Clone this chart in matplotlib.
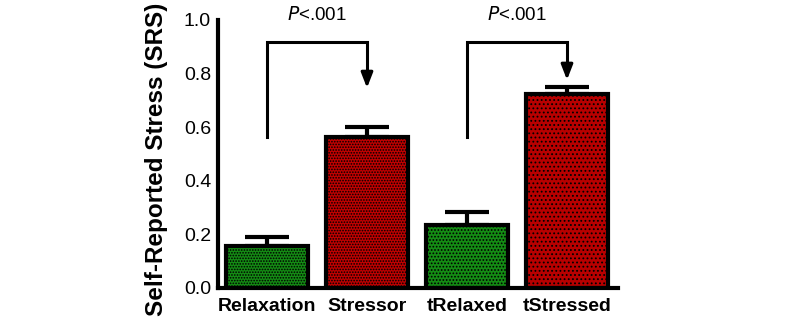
import matplotlib.pyplot as plt

# Du lieu doc tu hinh
nhom = ["Relaxation", "Stressor", "tRelaxed", "tStressed"]
gia_tri = [0.157, 0.563, 0.235, 0.724]
sai_so = [0.033, 0.037, 0.048, 0.026]
mau = ["#148c14", "#c00000", "#148c14", "#b80000"]
mau_cham = ["#0a500a", "#8a0000", "#0a500a", "#3a0000"]
kieu_cham = ["......", "......", ".....", "...."]

# cac cap so sanh: (tu, den, dau duoi, dinh, mui ten)
cap_so_sanh = [(0, 1, 0.563, 0.918, 0.746), (2, 3, 0.563, 0.918, 0.776)]
nhan_p = "$\\it{P}$<.001"

plt.rcParams["font.family"] = ["Liberation Sans", "DejaVu Sans"]
plt.rcParams["hatch.linewidth"] = 0.8

fig = plt.figure(figsize=(8, 3.25), dpi=100)
ax = fig.add_axes([0.2725, 0.114, 0.5, 0.825])

x = range(len(nhom))
for i in x:
    plt.rcParams["hatch.color"] = mau_cham[i]
    ax.bar(i, gia_tri[i], width=0.82, color=mau[i], edgecolor="black",
           linewidth=3, hatch=kieu_cham[i], zorder=2)
    ax.errorbar(i, gia_tri[i], yerr=[[0], [sai_so[i]]], fmt="none",
                ecolor="black", elinewidth=3, capsize=16, capthick=3, zorder=1)

for a, b, duoi, dinh, mui in cap_so_sanh:
    ax.plot([a, a, b, b], [duoi, dinh, dinh, mui + 0.03], color="black",
            linewidth=2.2, solid_joinstyle="miter", zorder=3)
    ax.annotate("", xy=(b, mui), xytext=(b, mui + 0.06),
                arrowprops=dict(arrowstyle="-|>,head_length=0.9,head_width=0.35",
                                color="black", lw=2.2, shrinkA=0, shrinkB=0))
    ax.text((a + b) / 2, 1.018, nhan_p, ha="center", va="center", fontsize=13.5)

ax.set_xlim(-0.49, 3.51)
ax.set_ylim(0, 1.0)
ax.set_yticks([0.0, 0.2, 0.4, 0.6, 0.8, 1.0])
ax.set_yticklabels(["0.0", "0.2", "0.4", "0.6", "0.8", "1.0"], fontsize=14)
ax.set_xticks(list(x))
ax.set_xticklabels(nhom, fontsize=14, fontweight="bold")
ax.tick_params(length=0, pad=5)
ax.tick_params(axis="x", pad=7)
ax.spines["top"].set_visible(False)
ax.spines["right"].set_visible(False)
ax.spines["left"].set_linewidth(3)
ax.spines["bottom"].set_linewidth(3)
ax.set_ylabel("Self-Reported Stress (SRS)", fontsize=17.5, fontweight="bold")
ax.yaxis.set_label_coords(-0.125, 0.48)

fig.savefig("out.png", dpi=100)
